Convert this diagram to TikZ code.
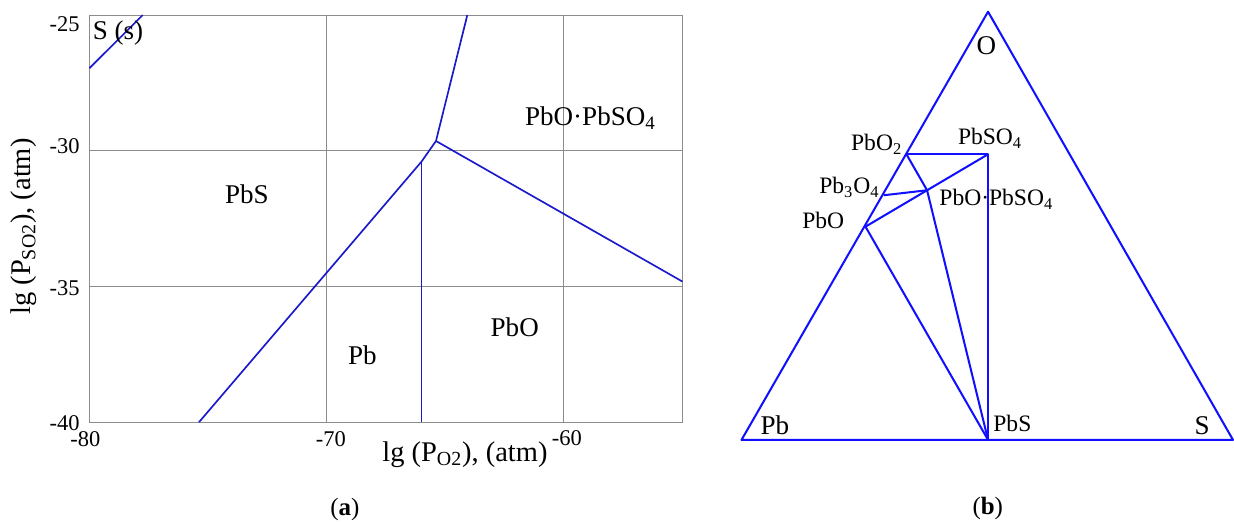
\documentclass[tikz,border=0pt]{standalone}
\usepackage{fontspec}
\setmainfont{Liberation Serif}
\definecolor{phasec}{HTML}{1A1ACC}
\definecolor{ternc}{HTML}{1010FF}
\definecolor{gridc}{HTML}{8C8C8C}
\tikzset{
  bnd/.style={draw=phasec, line width=0.95pt},
  tie/.style={draw=ternc, line width=1.15pt, line join=round},
  grd/.style={draw=gridc, line width=0.55pt},
  reg/.style={inner sep=0pt, font=\fontsize{15.4}{18}\selectfont},
  tck/.style={inner sep=0pt, font=\fontsize{12.8}{15}\selectfont},
  axl/.style={inner sep=0pt, font=\fontsize{16.2}{19}\selectfont},
  cmp/.style={inner sep=0pt, font=\fontsize{13.4}{16}\selectfont},
  capt/.style={inner sep=0pt, font=\fontsize{14.2}{17}\selectfont},
}
\begin{document}
\begin{tikzpicture}[x=0.2mm, y=-0.2mm]
  \path[fill=white] (0,0) rectangle (1234,524);
  \begin{scope}[shift={(89.4,422.3)}, x=4.746mm, y=5.43mm, shift={(80,40)}]
    \foreach \gx in {-70,-60} \draw[grd] (\gx,-40) -- (\gx,-25);
    \foreach \gy in {-30,-35} \draw[grd] (-80,\gy) -- (-55,\gy);
    \draw[grd] (-80,-40) rectangle (-55,-25);
    \foreach \gx/\dx/\dy [count=\i] in {-80/-4/9,-70/4.3/9,-60/3/8}
      \node[tck, below=\dy*0.2mm, xshift=\dx*0.2mm] (xt\i) at (\gx,-40) {\gx};
    \foreach \gy/\dy [count=\i] in {-25/-9,-30/4.7,-35/-1.7,-40/-0.5}
      \node[tck, anchor=east, xshift=-1.9mm, yshift=\dy*0.2mm] (yt\i) at (-80,\gy) {\gy};
    \coordinate (ss0) at (-80,-26.96);
    \coordinate (ss1) at (-77.75,-25);
    \coordinate (lo) at (-75.38,-40);
    \coordinate (kp) at (-66.0,-30.40);
    \coordinate (tp) at (-65.39,-29.64);
    \coordinate (up) at (-64.07,-25);
    \coordinate (rt) at (-55,-34.82);
    \coordinate (vb) at (-66.0,-40);
    \draw[bnd] (ss0) -- (ss1);
    \draw[bnd] (lo) -- (kp) -- (tp) -- (up);
    \draw[bnd] (tp) -- (rt);
    \draw[bnd] (kp) -- (vb);
    \node[reg] (rSs) at (-78.79,-25.66) {S (s)};
    \node[reg] (rPbS) at (-73.36,-31.62) {PbS};
    \node[reg] (rPb) at (-68.49,-37.52) {Pb};
    \node[reg] (rPbO) at (-62.07,-36.49) {PbO};
    \node[reg] (rMix) at (-58.88,-28.79) {PbO·PbSO\textsubscript{4}};
    \node[axl, anchor=base] (xlab) at (-64.17,-41.43) {lg (P\textsubscript{O2}), (atm)};
    \node[axl, anchor=base, rotate=90] (ylab) at (-82.47,-32.79) {lg (P\textsubscript{SO2}), (atm)};
  \end{scope}
  \node[capt] (capa) at (345,510) {(\textbf{a})};
  \coordinate (vPb) at (741.7,440);
  \coordinate (vS) at (1233.3,440);
  \coordinate (vO) at (988.3,11.7);
  \coordinate (cPbO2) at (906.7,154.3);
  \coordinate (cPbSO4) at (988.3,154.3);
  \coordinate (cPb3O4) at (884,195.3);
  \coordinate (cMix) at (927.3,190.3);
  \coordinate (cPbO) at (865.7,226.7);
  \coordinate (cPbS) at (988.3,440);
  \draw[tie] (vPb) -- (vS) -- (vO) -- cycle;
  \draw[tie] (cPbO2) -- (cPbSO4) -- (cPbS);
  \draw[tie] (cPbO2) -- (cMix) -- (cPbS);
  \draw[tie] (cPbO) -- (cPbSO4);
  \draw[tie] (cPb3O4) -- (cMix);
  \draw[tie] (cPbO) -- (cPbS);
  \node[reg] (lO) at (986.7,46) {O};
  \node[reg] (lPb) at (775,425) {Pb};
  \node[reg] (lS) at (1202.5,426) {S};
  \node[cmp, anchor=base west] (lPbS) at ([shift={(5,-8.3)}]cPbS) {PbS};
  \node[cmp, anchor=base east] (lPbO2) at ([shift={(-4,-4)}]cPbO2) {PbO\textsubscript{2}};
  \node[cmp, anchor=base] (lPbSO4) at ([shift={(2,-10)}]cPbSO4) {PbSO\textsubscript{4}};
  \node[cmp, anchor=base east] (lPb3O4) at ([shift={(-4,-2)}]cPb3O4) {Pb\textsubscript{3}O\textsubscript{4}};
  \node[cmp, anchor=base west] (lMix) at ([shift={(12,15)}]cMix) {PbO·PbSO\textsubscript{4}};
  \node[cmp, anchor=base east] (lPbO) at ([shift={(-21,1.6)}]cPbO) {PbO};
  \node[capt] (capb) at (988,509) {(\textbf{b})};
\end{tikzpicture}
\end{document}
